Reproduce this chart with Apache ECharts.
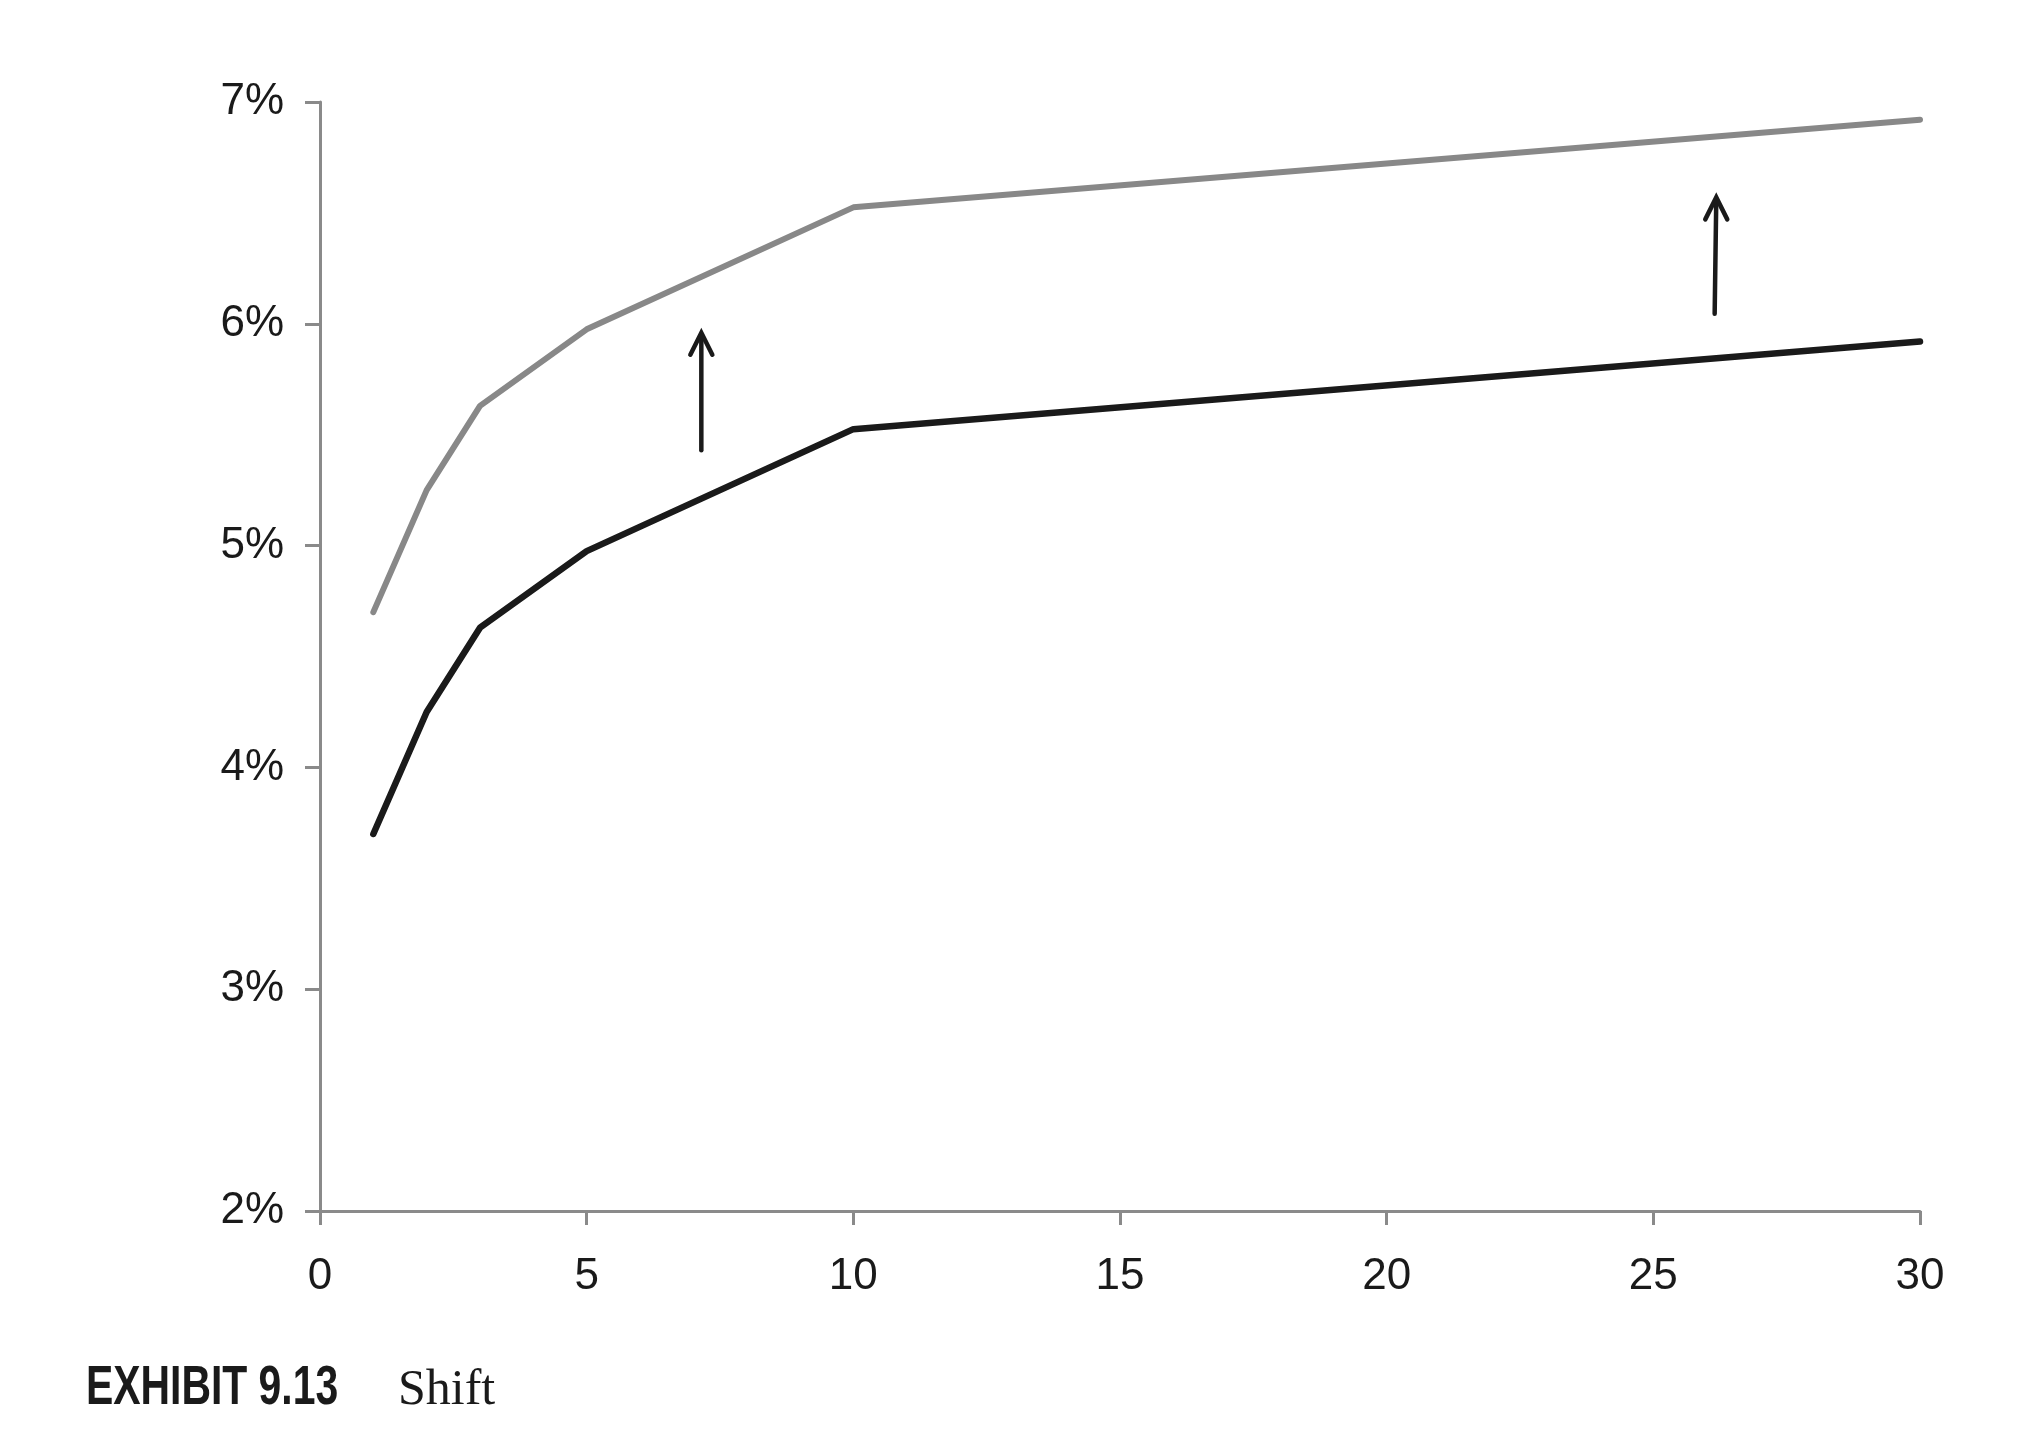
<!DOCTYPE html>
<html>
<head>
<meta charset="utf-8">
<script src="https://cdn.jsdelivr.net/npm/echarts@6/dist/echarts.min.js"></script>
<style>
html,body{margin:0;padding:0;background:#fff;}
#chart{width:2036px;height:1442px;}
</style>
</head>
<body>
<div id="chart"></div>
<script>
// Data
var maturities = [1, 2, 3, 5, 10, 30];
var shiftedCurve = [4.70, 5.25, 5.63, 5.975, 6.525, 6.92];
var baseCurve = [3.70, 4.25, 4.63, 4.975, 5.525, 5.92];
// Arrows: [xStart, yStart, xEnd, yEnd]
var arrows = [
  [7.15, 5.43, 7.15, 5.96],
  [26.15, 6.045, 26.18, 6.57]
];
var xTicks = [0, 5, 10, 15, 20, 25, 30];
var yTicks = [2, 3, 4, 5, 6, 7];

function pairs(xs, ys) { return xs.map(function (x, i) { return [x, ys[i]]; }); }

var chart = echarts.init(document.getElementById('chart'));
var labelFont = '"Liberation Sans", Arial, sans-serif';
chart.setOption({
  animation: false,
  backgroundColor: '#ffffff',
  grid: { left: 320, top: 102, right: 116, bottom: 231, containLabel: false },
  xAxis: {
    type: 'value', min: xTicks[0], max: xTicks[xTicks.length - 1], interval: 5,
    axisLine: { show: true, lineStyle: { color: '#8a8a8a', width: 3 } },
    axisTick: { show: true, length: 14, lineStyle: { color: '#8a8a8a', width: 3 } },
    splitLine: { show: false },
    axisLabel: { color: '#1a1a1a', fontSize: 44, fontFamily: labelFont, margin: 44 }
  },
  yAxis: {
    type: 'value', min: yTicks[0], max: yTicks[yTicks.length - 1], interval: 1,
    axisLine: { show: true, lineStyle: { color: '#8a8a8a', width: 3 } },
    axisTick: { show: true, length: 15, lineStyle: { color: '#8a8a8a', width: 3 } },
    splitLine: { show: false },
    axisLabel: { color: '#1a1a1a', fontSize: 44, fontFamily: labelFont, margin: 36,
      formatter: function (v) { return v + '%'; } }
  },
  series: [
    {
      type: 'line', data: pairs(maturities, shiftedCurve), symbol: 'none',
      lineStyle: { color: '#888888', width: 6, cap: 'round', join: 'round' }
    },
    {
      type: 'line', data: pairs(maturities, baseCurve), symbol: 'none',
      lineStyle: { color: '#1a1a1a', width: 6.5, cap: 'round', join: 'round' }
    },
    {
      type: 'custom', data: arrows,
      encode: { x: [0, 2], y: [1, 3] },
      renderItem: function (params, api) {
        var p0 = api.coord([api.value(0), api.value(1)]);
        var p1 = api.coord([api.value(2), api.value(3)]);
        var style = { stroke: '#1a1a1a', lineWidth: 4.5, fill: null, lineCap: 'round', lineJoin: 'miter' };
        return {
          type: 'group',
          children: [
            { type: 'line', shape: { x1: p0[0], y1: p0[1], x2: p1[0], y2: p1[1] + 2 }, style: style },
            { type: 'polyline', shape: { points: [[p1[0] - 11, p1[1] + 22], [p1[0], p1[1]], [p1[0] + 11, p1[1] + 22]] }, style: style }
          ]
        };
      }
    }
  ],
  graphic: [
    { type: 'text', x: 86, y: 1361, scaleX: 0.73, originX: 0, originY: 0,
      style: { text: 'EXHIBIT 9.13', font: '900 56px "Liberation Sans", Arial, sans-serif', fill: '#1a1a1a', verticalAlign: 'top' } },
    { type: 'text', x: 398, y: 1366,
      style: { text: 'Shift', font: '50px "Liberation Serif", "DejaVu Serif", serif', fill: '#1a1a1a', verticalAlign: 'top' } }
  ]
});
</script>
</body>
</html>
